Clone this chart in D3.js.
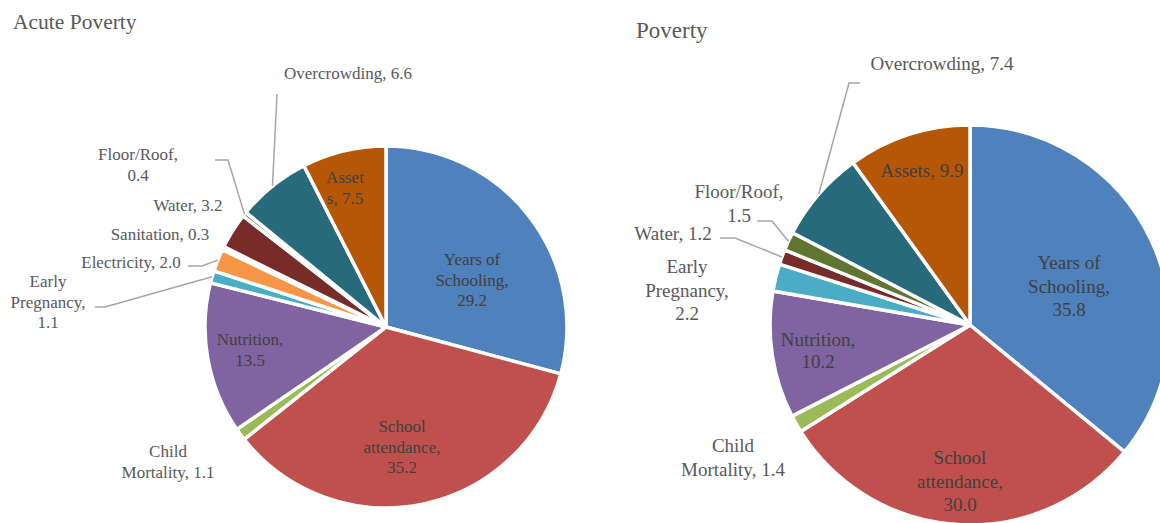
<!DOCTYPE html>
<html>
<head>
<meta charset="utf-8">
<script src="https://cdn.jsdelivr.net/npm/d3@7"></script>
<style>
  html, body { margin: 0; padding: 0; background: #fff; }
  svg { display: block; }
  text { font-family: "Liberation Serif", "Times New Roman", serif; }
</style>
</head>
<body>
<svg id="chart" width="1160" height="523"></svg>
<script>
// ---------------- DATA ----------------
const leftTitle = "Acute Poverty";
const leftCategories = ["Years of Schooling", "School attendance", "Child Mortality", "Nutrition",
  "Early Pregnancy", "Electricity", "Sanitation", "Water", "Floor/Roof", "Overcrowding", "Assets"];
const leftValues = [29.2, 35.2, 1.1, 13.5, 1.1, 2.0, 0.3, 3.2, 0.4, 6.6, 7.5];

const rightTitle = "Poverty";
const rightCategories = ["Years of Schooling", "School attendance", "Child Mortality", "Nutrition",
  "Early Pregnancy", "Water", "Floor/Roof", "Overcrowding", "Assets"];
const rightValues = [35.8, 30.0, 1.4, 10.2, 2.2, 1.2, 1.5, 7.4, 9.9];

// ---------------- STYLE / LAYOUT ----------------
const colorMap = {
  "Years of Schooling": "#4F81BD",
  "School attendance": "#C0504D",
  "Child Mortality": "#9BBB59",
  "Nutrition": "#8064A2",
  "Early Pregnancy": "#4BACC6",
  "Electricity": "#F79646",
  "Sanitation": "#2C4D75",
  "Water": "#772C2A",
  "Floor/Roof": "#5F7530",
  "Overcrowding": "#276A7C",
  "Assets": "#B65708"
};

const leftLayout = {
  cx: 386, cy: 327, r: 181, font: 17, lh: 20.5,
  title: { x: 13, y: 29, size: 21.5 },
  labels: {
    "Years of Schooling": { x: 472, y: 265, wrap: [2, 1, 1], inside: true },
    "School attendance": { x: 402, y: 432, wrap: [1, 1, 1], inside: true },
    "Child Mortality": { x: 168, y: 457, wrap: [1, 2] },
    "Nutrition": { x: 250, y: 345, wrap: [1, 1], inside: true },
    "Early Pregnancy": { x: 48, y: 287, wrap: [1, 1, 1], leader: [[95, 307], [105, 307]] },
    "Electricity": { x: 131, y: 268, wrap: [2], leader: [[188, 266], [202, 266]] },
    "Sanitation": { x: 160, y: 240, wrap: [2] },
    "Water": { x: 188, y: 211, wrap: [2] },
    "Floor/Roof": { x: 138, y: 160, wrap: [1, 1], leader: [[215, 160], [228, 160]] },
    "Overcrowding": { x: 348, y: 79, wrap: [2], leader: [[277, 94]] },
    "Assets": { x: 345, y: 183, chars: 5, inside: true }
  }
};

const rightLayout = {
  cx: 970, cy: 325, r: 200, font: 19, lh: 23.5,
  title: { x: 636, y: 38, size: 23 },
  labels: {
    "Years of Schooling": { x: 1069, y: 269, wrap: [2, 1, 1], inside: true },
    "School attendance": { x: 960, y: 464, wrap: [1, 1, 1], inside: true },
    "Child Mortality": { x: 733, y: 452, wrap: [1, 2] },
    "Nutrition": { x: 818, y: 346, wrap: [1, 1], inside: true, lh: 22 },
    "Early Pregnancy": { x: 687, y: 273, wrap: [1, 1, 1] },
    "Water": { x: 673, y: 240, wrap: [2], leader: [[720, 238], [735, 238]] },
    "Floor/Roof": { x: 739, y: 198, wrap: [1, 1], leader: [[757, 221], [772, 221]] },
    "Overcrowding": { x: 942, y: 70, wrap: [2], leader: [[860, 83], [849, 83]] },
    "Assets": { x: 922, y: 177, wrap: [2], inside: true }
  }
};

// ---------------- DRAW ----------------
const svg = d3.select("#chart");

function splitLabel(text, spec) {
  if (spec.chars) return [text.slice(0, spec.chars), text.slice(spec.chars)];
  const words = text.split(" ");
  const lines = [];
  let i = 0;
  spec.wrap.forEach(n => { lines.push(words.slice(i, i + n).join(" ")); i += n; });
  return lines;
}

function drawPie(categories, values, title, L) {
  const data = categories.map((c, i) => ({ cat: c, value: values[i] }));
  const pie = d3.pie().sort(null).value(d => d.value).startAngle(0).endAngle(2 * Math.PI);
  const arcs = pie(data);
  const arc = d3.arc().innerRadius(0).outerRadius(L.r);

  const g = svg.append("g").attr("transform", `translate(${L.cx},${L.cy})`);
  g.selectAll("path.slice")
    .data(arcs)
    .join("path")
    .attr("class", "slice")
    .attr("d", arc)
    .attr("fill", d => colorMap[d.data.cat])
    .attr("stroke", "#fff")
    .attr("stroke-width", 3.5)
    .attr("stroke-linejoin", "round");

  // title
  svg.append("text")
    .attr("x", L.title.x).attr("y", L.title.y)
    .attr("font-size", L.title.size)
    .attr("fill", "#595959")
    .text(title);

  // leader lines
  const lineGen = d3.line();
  arcs.forEach(a => {
    const spec = L.labels[a.data.cat];
    if (!spec || !spec.leader) return;
    const mid = (a.startAngle + a.endAngle) / 2;
    const end = [L.cx + L.r * Math.sin(mid), L.cy - L.r * Math.cos(mid)];
    svg.append("path")
      .attr("d", lineGen(spec.leader.concat([end])))
      .attr("fill", "none")
      .attr("stroke", "#A6A6A6")
      .attr("stroke-width", 1.5);
  });

  // labels
  arcs.forEach(a => {
    const spec = L.labels[a.data.cat];
    if (!spec) return;
    const text = `${a.data.cat}, ${a.data.value.toFixed(1)}`;
    const lines = splitLabel(text, spec);
    const lh = spec.lh || L.lh;
    const t = svg.append("text")
      .attr("text-anchor", "middle")
      .attr("font-size", L.font)
      .attr("fill", spec.inside ? "#404040" : "#595959");
    lines.forEach((ln, i) => {
      t.append("tspan").attr("x", spec.x).attr("y", spec.y + i * lh).text(ln);
    });
  });
}

drawPie(leftCategories, leftValues, leftTitle, leftLayout);
drawPie(rightCategories, rightValues, rightTitle, rightLayout);
</script>
</body>
</html>
